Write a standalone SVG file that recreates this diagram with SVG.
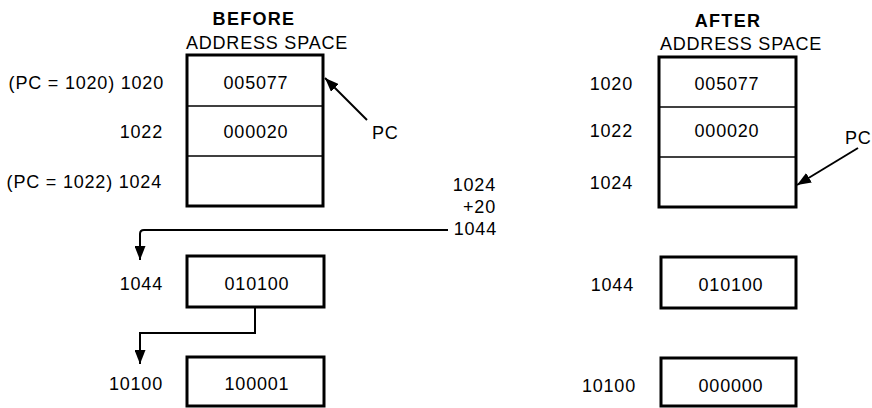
<svg xmlns="http://www.w3.org/2000/svg" width="872" height="408" viewBox="0 0 872 408">
<defs>
<style>
text{font-family:"Liberation Sans",Arial,sans-serif;font-size:18px;letter-spacing:0.8px;fill:#000}
.t{font-weight:bold;letter-spacing:1.3px}
.m{text-anchor:middle}
.e{text-anchor:end}
.box{fill:#fff;stroke:#000;stroke-width:3}
.div{stroke:#000;stroke-width:1.5;fill:none}
.con{stroke:#000;stroke-width:2;fill:none}
</style>
<marker id="ah" markerUnits="userSpaceOnUse" markerWidth="14" markerHeight="11" refX="14" refY="5.5" orient="auto" viewBox="0 0 14 11">
<path d="M0,0 L14,5.5 L0,11 z" fill="#000"/>
</marker>
</defs>
<rect width="872" height="408" fill="#fff"/>

<g id="before-title">
<text class="t m" x="254" y="25">BEFORE</text>
<text class="m" x="267" y="49">ADDRESS SPACE</text>
</g>
<g id="after-title">
<text class="t m" x="728" y="27">AFTER</text>
<text class="m" x="741" y="50">ADDRESS SPACE</text>
</g>

<g id="before-space">
<rect class="box" x="187" y="55" width="136" height="151"/>
<line class="div" x1="187" y1="106" x2="323" y2="106"/>
<line class="div" x1="187" y1="156" x2="323" y2="156"/>
<text class="m" x="256" y="89">005077</text>
<text class="m" x="256" y="138">000020</text>
<text class="e" x="164" y="89">(PC = 1020) 1020</text>
<text class="e" x="163" y="138">1022</text>
<text class="e" x="162" y="188">(PC = 1022) 1024</text>
</g>

<g id="before-1044">
<rect class="box" x="187" y="256" width="137" height="51"/>
<text class="m" x="257" y="290">010100</text>
<text class="e" x="163" y="290">1044</text>
</g>

<g id="before-10100">
<rect class="box" x="187" y="357" width="137" height="49"/>
<text class="m" x="257" y="390">100001</text>
<text class="e" x="163" y="390">10100</text>
</g>

<g id="calc">
<text class="e" x="496" y="191">1024</text>
<text class="e" x="496" y="213">+20</text>
<text class="e" x="497" y="235">1044</text>
</g>

<g id="after-space">
<rect class="box" x="659" y="57" width="137" height="150"/>
<line class="div" x1="659" y1="107" x2="796" y2="107"/>
<line class="div" x1="659" y1="157" x2="796" y2="157"/>
<text class="m" x="727" y="90">005077</text>
<text class="m" x="727" y="137">000020</text>
<text class="e" x="633" y="90">1020</text>
<text class="e" x="633" y="137">1022</text>
<text class="e" x="633" y="189">1024</text>
</g>

<g id="after-1044">
<rect class="box" x="661" y="257" width="135" height="51"/>
<text class="m" x="731" y="291">010100</text>
<text class="e" x="634" y="291">1044</text>
</g>

<g id="after-10100">
<rect class="box" x="661" y="358" width="135" height="48"/>
<text class="m" x="731" y="392">000000</text>
<text class="e" x="636" y="392">10100</text>
</g>

<g id="pc-labels">
<text x="372" y="139">PC</text>
<text x="845" y="144">PC</text>
</g>

<g id="connectors">
<path class="con" d="M367,120 L325,78" marker-end="url(#ah)"/>
<path class="con" d="M858,148 L797,185" marker-end="url(#ah)"/>
<path class="con" d="M448,230 H144 Q140,230 140,234 V260" marker-end="url(#ah)"/>
<path class="con" d="M255,307 V333 H140 V364" marker-end="url(#ah)"/>
</g>
</svg>
